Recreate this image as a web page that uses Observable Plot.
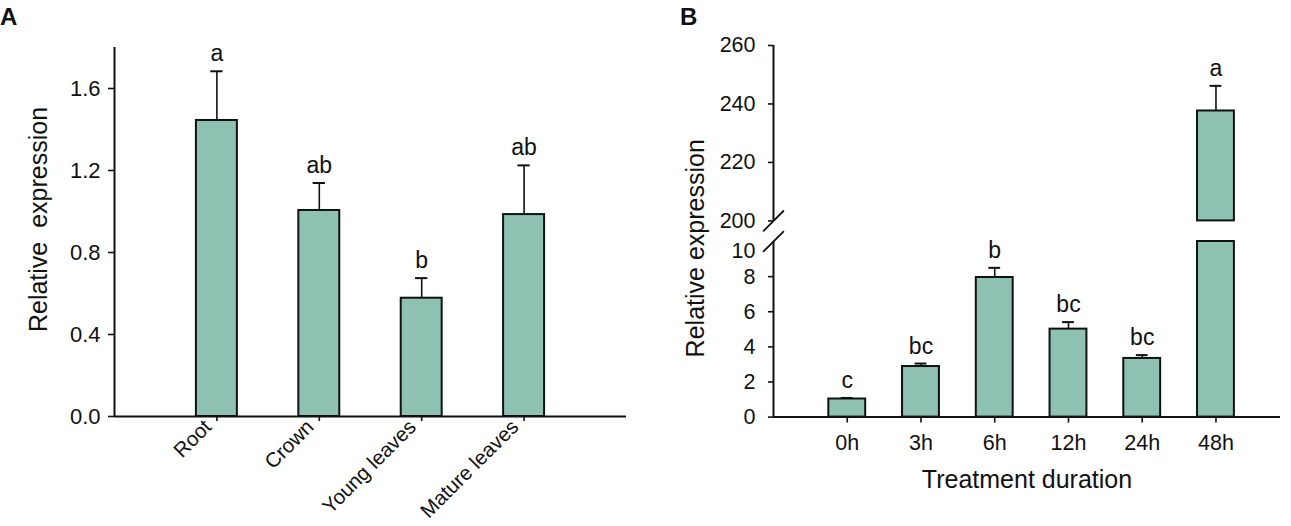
<!DOCTYPE html>
<html><head><meta charset="utf-8">
<script src="https://cdn.jsdelivr.net/npm/d3@7"></script>
<script src="https://cdn.jsdelivr.net/npm/@observablehq/plot@0.6"></script>
<style>
body{margin:0;background:#fff;font-family:"Liberation Sans",Arial,sans-serif;}
#wrap{position:relative;width:1291px;height:526px;overflow:hidden;background:#fff}
.panel{position:absolute;top:0}
.tag{position:absolute;font-weight:bold;font-size:24px;line-height:normal;color:#111}
</style></head><body>
<div id="wrap">
<div id="pa" class="panel" style="left:0px"></div>
<div id="pb" class="panel" style="left:660px"></div>
<div class="tag" style="left:0px;top:3px">A</div>
<div class="tag" style="left:680px;top:3px">B</div>
</div>
<script>
// ---- Panel A data ----
const tissues = ["Root", "Crown", "Young leaves", "Mature leaves"];
const tissueMean = [1.444, 1.005, 0.577, 0.985];
const tissueErr = [0.240, 0.134, 0.098, 0.240];
const tissueLetters = ["a", "ab", "b", "ab"];
const tissueTicks = [0, 0.4, 0.8, 1.2, 1.6];

// ---- Panel B data ----
const durations = ["0h", "3h", "6h", "12h", "24h", "48h"];
const durationMean = [1.03, 2.88, 7.95, 5.01, 3.34, 237.6];
const durationErr = [0.06, 0.17, 0.55, 0.40, 0.19, 8.6];
const durationLetters = ["c", "bc", "b", "bc", "bc", "a"];
const durationTicks = [0, 2, 4, 6, 8, 200, 220, 240, 260];
const breakLow = 10, breakHigh = 200;

const FONT = '"Liberation Sans", Arial, sans-serif';
const FILL = "#8fc1b3", INK = "#111";

// ---------- Panel A ----------
const A = tissues.map((name, i) => ({name, pos: i + 1, mean: tissueMean[i], top: tissueMean[i] + tissueErr[i], letter: tissueLetters[i]}));
const hwA = 0.2, capA = 0.06;
const plotA = Plot.plot({
  width: 660, height: 526,
  marginLeft: 114, marginRight: 34, marginTop: 47, marginBottom: 110,
  style: {fontFamily: FONT, fontSize: "22px", color: INK, background: "transparent", overflow: "visible"},
  x: {type: "linear", domain: [0, 5]},
  y: {type: "linear", domain: [0, 1.8]},
  marks: [
    Plot.rectY(A, {x1: d => d.pos - hwA, x2: d => d.pos + hwA, y1: 0, y2: "mean", fill: FILL, stroke: INK, strokeWidth: 2}),
    Plot.ruleX(A, {x: "pos", y1: "mean", y2: "top", stroke: INK, strokeWidth: 1.6}),
    Plot.ruleY(A, {y: "top", x1: d => d.pos - capA, x2: d => d.pos + capA, stroke: INK, strokeWidth: 2}),
    Plot.text(A, {x: "pos", y: "top", text: "letter", dy: -10, lineAnchor: "bottom", fontSize: 23, fill: INK}),
    Plot.axisY({ticks: tissueTicks, tickFormat: d3.format(".1f"), tickSize: 6, tickPadding: 8, label: null, fontSize: 22, stroke: INK, strokeWidth: 1.6}),
    Plot.axisX({ticks: [1, 2, 3, 4], tickFormat: () => "", tickSize: 5, label: null, stroke: INK, strokeWidth: 1.6}),
    Plot.axisX({ticks: [1, 2, 3, 4], tickFormat: i => tissues[i - 1], tickSize: 0, tickPadding: 7, tickRotate: -45, label: null, fontSize: 20.5, dx: -9}),
    Plot.ruleX([0], {stroke: INK, strokeWidth: 2}),
    Plot.ruleY([0], {stroke: INK, strokeWidth: 2}),
    Plot.text(["Relative\u00a0 expression"], {frameAnchor: "left", textAnchor: "middle", rotate: -90, dx: -76, dy: -12.5, fontSize: 25, fill: INK})
  ]
});
document.getElementById("pa").append(plotA);

// ---------- Panel B ----------
const B = durations.map((name, i) => ({name, pos: i + 1, mean: durationMean[i], top: durationMean[i] + durationErr[i], letter: durationLetters[i]}));
const segs = B.flatMap(d => d.mean > breakLow
  ? [{pos: d.pos, lo: 0, hi: breakLow}, {pos: d.pos, lo: breakHigh, hi: d.mean}]
  : [{pos: d.pos, lo: 0, hi: d.mean}]);
const hwB = 0.25, capB = 0.08;
const yTop = durationTicks[durationTicks.length - 1];
const plotB = Plot.plot({
  width: 631, height: 526,
  marginLeft: 113, marginRight: 11, marginTop: 45, marginBottom: 109.4,
  style: {fontFamily: FONT, fontSize: "22px", color: INK, background: "transparent", overflow: "visible"},
  x: {type: "linear", domain: [0, 6.875]},
  y: {type: "linear", domain: [0, breakLow, breakHigh, yTop], range: [416.6, 241, 220.4, 45]},
  marks: [
    Plot.rectY(segs, {x1: d => d.pos - hwB, x2: d => d.pos + hwB, y1: "lo", y2: "hi", fill: FILL, stroke: INK, strokeWidth: 2}),
    Plot.ruleX(B, {x: "pos", y1: "mean", y2: "top", stroke: INK, strokeWidth: 1.6}),
    Plot.ruleY(B, {y: "top", x1: d => d.pos - capB, x2: d => d.pos + capB, stroke: INK, strokeWidth: 2}),
    Plot.text(B, {x: "pos", y: "top", text: "letter", dy: -10, lineAnchor: "bottom", fontSize: 23, fill: INK}),
    Plot.axisY({ticks: durationTicks, tickSize: 5, tickPadding: 13, label: null, fontSize: 21.5, stroke: INK, strokeWidth: 1.6}),
    Plot.axisY({ticks: [breakLow], tickSize: 0, tickPadding: 18, label: null, fontSize: 21.5, dy: 10}),
    Plot.axisX({ticks: [1, 2, 3, 4, 5, 6], tickFormat: i => durations[i - 1], tickSize: 6, tickPadding: 12, label: null, fontSize: 21.5, stroke: INK, strokeWidth: 1.6}),
    Plot.ruleX([0], {y1: 0, y2: breakLow, stroke: INK, strokeWidth: 2}),
    Plot.ruleX([0], {y1: breakHigh, y2: yTop, stroke: INK, strokeWidth: 2}),
    Plot.vector([breakLow, breakHigh], {x: 0, y: d => d, length: 28, rotate: 45, anchor: "middle", r: 0, stroke: INK, strokeWidth: 1.8}),
    Plot.ruleY([0], {stroke: INK, strokeWidth: 2}),
    Plot.text(["Treatment duration"], {frameAnchor: "bottom", dy: 63, lineAnchor: "middle", fontSize: 25, fill: INK}),
    Plot.text(["Relative expression"], {frameAnchor: "left", textAnchor: "middle", rotate: -90, dx: -77.7, dy: 17, fontSize: 25, fill: INK})
  ]
});
document.getElementById("pb").append(plotB);
</script>
</body></html>
